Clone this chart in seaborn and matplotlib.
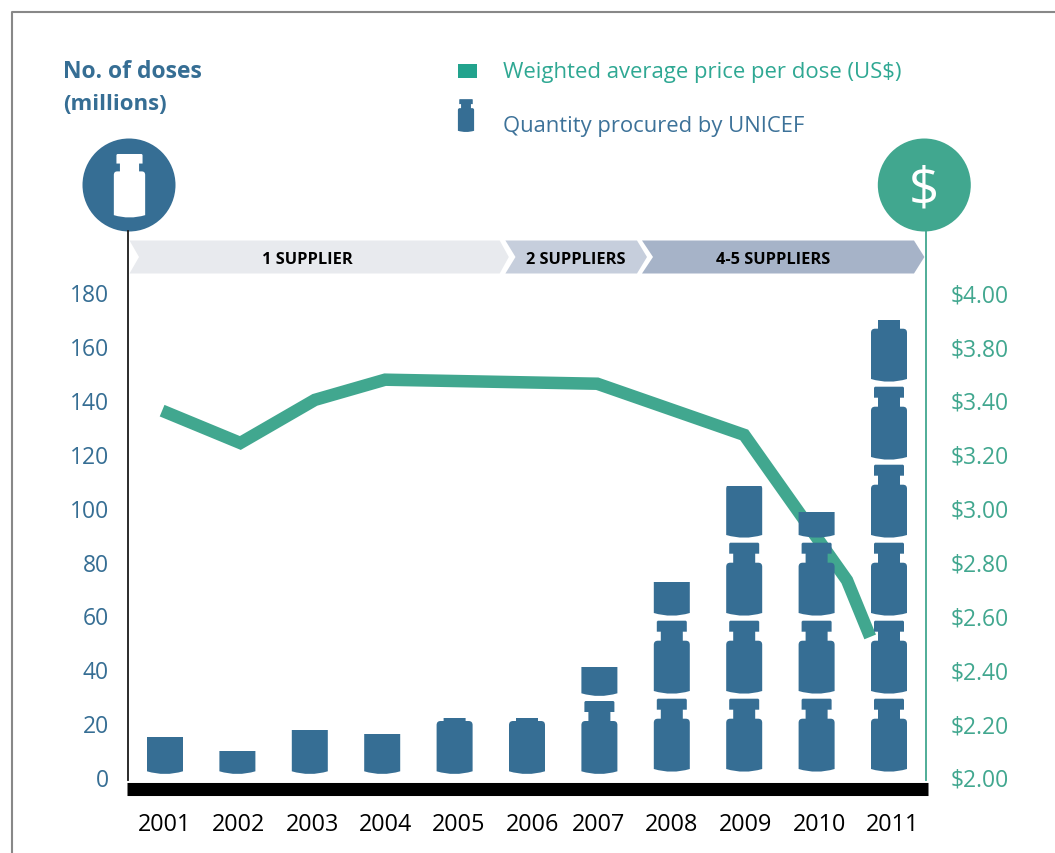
#!/usr/bin/env python3

import numpy as np
import matplotlib

matplotlib.use("Agg")
import matplotlib.pyplot as plt
import seaborn as sns
from matplotlib.lines import Line2D
from matplotlib.patches import Circle, PathPatch, Polygon, Rectangle
from matplotlib.path import Path
from matplotlib.transforms import Affine2D

years = ["2001", "2002", "2003", "2004", "2005", "2006", "2007", "2008", "2009", "2010", "2011"]
doses = [15, 9.5, 17.5, 15.8, 22, 22, 41, 72.5, 108, 98.5, 169.5]
price_pos = [-0.04, 1.04, 2.07, 3.04, 5.97, 8.0, 9.42, 9.74]
prices = [3.36, 3.24, 3.40, 3.55, 3.52, 3.27, 2.73, 2.52]
dose_ticks = [0, 20, 40, 60, 80, 100, 120, 140, 160, 180]
# the source skips $3.60, the scale is even between the printed labels
price_ticks = [2.0, 2.2, 2.4, 2.6, 2.8, 3.0, 3.2, 3.4, 3.8, 4.0]
suppliers = ["1 SUPPLIER", "2 SUPPLIERS", "4-5 SUPPLIERS"]

BLUE = "#366e94"
TEAL = "#41a78f"
W, H = 1055, 854

sns.set_theme(style="white")
plt.rcParams["font.family"] = ["Open Sans", "DejaVu Sans"]

fig = plt.figure(figsize=(W / 100, H / 100), dpi=100)
# layout is worked out in picture pixels, y going down
px = Affine2D().scale(1, -1).translate(0, H)


def vial(cx, bottom, s=1.0):
    pts = [
        (-18, 2.7), (0, -2.7), (18, 2.7), (18, 49), (18, 53), (14, 53), (11, 53),
        (11, 62), (15, 62), (15, 72), (14, 73), (-14, 73), (-15, 72), (-15, 62),
        (-11, 62), (-11, 53), (-14, 53), (-18, 53), (-18, 49), (-18, 2.7),
    ]
    codes = [
        Path.MOVETO, Path.CURVE3, Path.CURVE3, Path.LINETO, Path.CURVE3, Path.CURVE3, Path.LINETO,
        Path.LINETO, Path.LINETO, Path.LINETO, Path.LINETO, Path.LINETO, Path.LINETO, Path.LINETO,
        Path.LINETO, Path.LINETO, Path.LINETO, Path.CURVE3, Path.CURVE3, Path.CLOSEPOLY,
    ]
    verts = [(cx + s * x, bottom - s * y) for x, y in pts]
    return Path(verts, codes)


ax = fig.add_axes([127 / W, 1 - 790.3 / H, 801 / W, (790.3 - 232) / H])
sns.barplot(x=years, y=doses, color=BLUE, saturation=1, width=0.6, ax=ax)
ax.set_xlim((127 - 165) / 72.4, (928 - 165) / 72.4)
ax.set_ylim(-4.57, 202.7)
ax.set_yticks(dose_ticks)
ax.set_xticks([0, 1.02, 2.04, 3.05, 4.06, 5.08, 5.99, 7.0, 8.02, 9.04, 10.05], years)
ax.tick_params(axis="y", length=0, pad=13.7, labelsize=16.5, labelcolor=BLUE)
ax.tick_params(axis="x", length=0, pad=16.5, labelsize=16.8, labelcolor="black")
ax.set_xlabel("")
ax.set_ylabel("")
for name in ["top", "right"]:
    ax.spines[name].set_visible(False)
ax.spines["left"].set_color("#1a1a1a")
ax.spines["left"].set_linewidth(1.3)
ax.spines["left"].set_position(("outward", -0.7))
ax.spines["left"].set_bounds(-1.1, 202.7)
ax.spines["bottom"].set_color("black")
ax.spines["bottom"].set_linewidth(9.4)
ax.spines["bottom"].set_capstyle("butt")

# each bar only shows through a stack of vials
for i, bar in enumerate(ax.patches):
    cx = bar.get_x() + bar.get_width() / 2
    cx_px = px.inverted().transform(ax.transData.transform((cx, 0)))[0]
    base = 775 if i < 7 else 772.7
    stack = Path.make_compound_path(*[vial(cx_px, base - 78 * k) for k in range(6)])
    bar.set_clip_path(stack, px)
    bar.set_linewidth(0)

even_pos = np.arange(-1, 12)
even_val = [1.6] + price_ticks + [4.4, 4.8]


def to_even(v):
    return np.interp(v, even_val, even_pos)


def from_even(v):
    return np.interp(v, even_pos, even_val)


ax2 = ax.twinx()
ax2.set_yscale("function", functions=(to_even, from_even))
ax2.set_ylim(from_even(-4.57 / 20), from_even(202.7 / 20))
sns.lineplot(x=price_pos, y=prices, color=TEAL, linewidth=9, ax=ax2, estimator=None, sort=False)
ax2.lines[0].set_solid_capstyle("butt")
ax2.lines[0].set_solid_joinstyle("miter")
ax2.set_yticks(price_ticks, ["${:.2f}".format(p) for p in price_ticks])
ax2.minorticks_off()
ax2.tick_params(axis="y", length=0, pad=18, labelsize=16.5, labelcolor=TEAL)
ax2.set_ylabel("")
for name in ["top", "left", "bottom"]:
    ax2.spines[name].set_visible(False)
ax2.spines["right"].set_color(TEAL)
ax2.spines["right"].set_linewidth(1.3)
ax2.spines["right"].set_position(("axes", (925.5 - 127) / 801))
ax2.spines["right"].set_bounds(from_even(-1.1 / 20), from_even(202.7 / 20))
# vials sit over the price line
ax.set_zorder(ax2.get_zorder() + 1)
ax.patch.set_visible(False)

# frame, top and left edges only
fig.add_artist(Line2D([12, 12, W], [H, 13, 13], color="#888888", linewidth=1.5, transform=px))

fig.text(63 / W, 1 - 72 / H, "No. of doses", color=BLUE, fontsize=16.5, fontweight="bold", va="center")
fig.text(63 / W, 1 - 104 / H, "(millions)", color=BLUE, fontsize=16, fontweight="bold", va="center")

fig.add_artist(Rectangle((458, 65), 19, 13.5, color="#22a38d", linewidth=0, transform=px))
fig.add_artist(PathPatch(vial(466, 133, 0.45), color=BLUE, linewidth=0, transform=px))
fig.text(503 / W, 1 - 72.5 / H, "Weighted average price per dose (US$)", color="#2fa893", fontsize=15.9, va="center")
fig.text(503 / W, 1 - 126.5 / H, "Quantity procured by UNICEF", color="#3d7299", fontsize=15.8, va="center")

fig.add_artist(Circle((129, 186), 46.5, color=BLUE, linewidth=0, transform=px))
fig.add_artist(PathPatch(vial(129.5, 218.5, 0.87), color="white", linewidth=0, transform=px))
fig.add_artist(Circle((924.3, 186), 46.5, color=TEAL, linewidth=0, transform=px))
fig.text(924.3 / W, 1 - 190.5 / H, "$", color="white", fontsize=38, ha="center", va="center")

chevrons = [
    (129.5, 139, 499.7, 508.8, "#e8eaee", 307),
    (505.4, 515.5, 637, 647, "#c6cedc", 576),
    (642, 653, 914, 924.4, "#a6b3c8", 773.6),
]
for label, (x0, notch, x1, tip, colour, tx) in zip(suppliers, chevrons):
    fig.add_artist(
        Polygon(
            [(x0, 241.5), (x1, 241.5), (tip, 258), (x1, 274.5), (x0, 274.5), (notch, 258)],
            color=colour, linewidth=0, transform=px,
        )
    )
    fig.text(tx / W, 1 - 259.5 / H, label, color="black", fontsize=11.8, fontweight="bold", ha="center", va="center")

fig.savefig("out.png", dpi=100)
